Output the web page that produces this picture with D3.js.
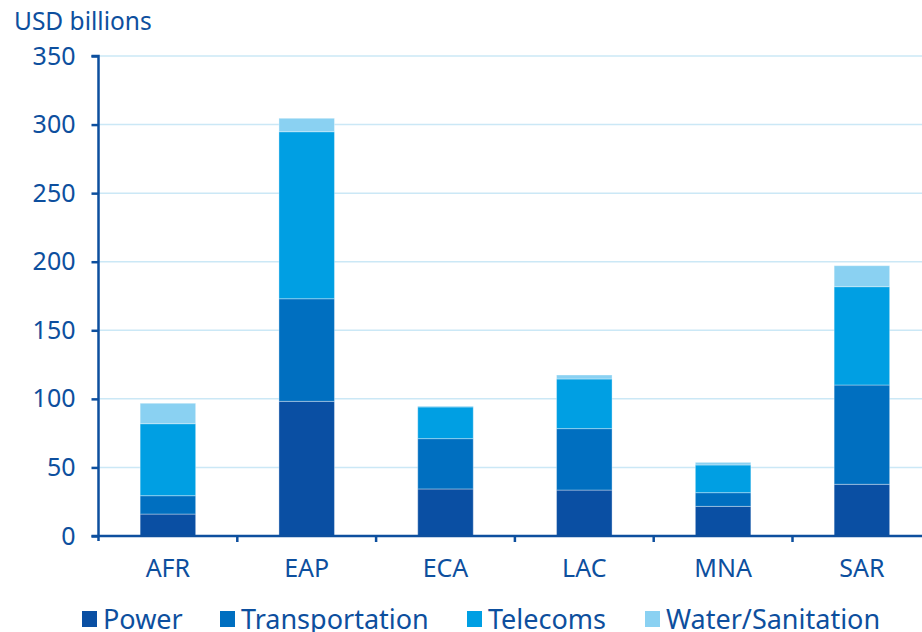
<!DOCTYPE html>
<html>
<head>
<meta charset="utf-8">
<script src="https://cdn.jsdelivr.net/npm/d3@7"></script>
<style>
  html, body { margin: 0; padding: 0; background: #fff; }
  svg { display: block; font-family: "Noto Sans", "Open Sans", sans-serif; }
</style>
</head>
<body>
<svg id="chart" width="922" height="632"></svg>
<script>
// Infrastructure investment needs by region, USD billions
const regions = ["AFR", "EAP", "ECA", "LAC", "MNA", "SAR"];
const seriesNames = ["Power", "Transportation", "Telecoms", "Water/Sanitation"];
const power          = [16.0, 98.2, 34.3, 33.5, 21.6, 37.7];
const transportation = [13.4, 74.8, 36.7, 44.8, 10.0, 72.4];
const telecoms       = [52.5, 121.8, 23.1, 36.2, 20.2, 71.7];
const water          = [14.9, 9.8, 0.7, 2.9, 1.9, 15.3];
const yTicks = [0, 50, 100, 150, 200, 250, 300, 350];

const colors = ["#0a4fa3", "#006fc0", "#009fe3", "#8ad1f2"];
const textColor = "#0d4f9e";

const svg = d3.select("#chart");
const margin = { left: 98.5, top: 56, bottom: 96 };
const yBottom = 632 - margin.bottom;

const rows = regions.map((r, i) => ({
  region: r,
  "Power": power[i],
  "Transportation": transportation[i],
  "Telecoms": telecoms[i],
  "Water/Sanitation": water[i]
}));
const stacked = d3.stack().keys(seriesNames)(rows);

const x = d3.scaleBand().domain(regions).range([margin.left, 931.3]).paddingInner(0.6).paddingOuter(0.3);
const y = d3.scaleLinear().domain([0, 350]).range([yBottom, margin.top]);

// Gridlines
svg.append("g").selectAll("line").data(yTicks.filter(d => d > 0)).join("line")
  .attr("x1", margin.left).attr("x2", 922)
  .attr("y1", d => y(d)).attr("y2", d => y(d))
  .attr("stroke", "#cbe8f6").attr("stroke-width", 1.5);

// Stacked bars
svg.append("g").selectAll("g").data(stacked).join("g")
  .attr("fill", (d, i) => colors[i])
  .selectAll("rect").data(d => d).join("rect")
  .attr("x", d => x(d.data.region))
  .attr("width", x.bandwidth())
  .attr("y", d => y(d[1]))
  .attr("height", d => y(d[0]) - y(d[1]))
  .attr("stroke", "rgba(255,255,255,0.35)")
  .attr("stroke-width", 1);

// Y axis
const yAxis = svg.append("g")
  .attr("transform", `translate(${margin.left},0)`)
  .call(d3.axisLeft(y).tickValues(yTicks).tickSize(7).tickPadding(16));
yAxis.select(".domain").attr("stroke", textColor).attr("stroke-width", 2.5)
  .attr("d", `M0,${yBottom + 5}V${margin.top}H-7`);
yAxis.selectAll(".tick line").attr("stroke", textColor).attr("stroke-width", 2.5);
yAxis.selectAll(".tick text").attr("fill", textColor).attr("font-size", 25)
  .attr("font-family", "Noto Sans, sans-serif");

// X axis with separators between categories
const xAxisG = svg.append("g").attr("transform", `translate(0,${yBottom})`);
xAxisG.append("line").attr("x1", margin.left - 7).attr("x2", 922)
  .attr("y1", 0).attr("y2", 0).attr("stroke", textColor).attr("stroke-width", 2.5);
const step = x.step();
xAxisG.selectAll("line.sep").data(regions.slice(1)).join("line")
  .attr("class", "sep")
  .attr("x1", d => x(d) - step * 0.3).attr("x2", d => x(d) - step * 0.3)
  .attr("y1", 0).attr("y2", 6).attr("stroke", textColor).attr("stroke-width", 2.5);
xAxisG.selectAll("text").data(regions).join("text")
  .attr("x", d => x(d) + x.bandwidth() / 2)
  .attr("y", 41)
  .attr("text-anchor", "middle")
  .attr("fill", textColor).attr("font-size", 25)
  .text(d => d);

// Unit label
svg.append("text").attr("x", 14).attr("y", 30)
  .attr("fill", textColor).attr("font-size", 24.5).text("USD billions");

// Legend
const legendX = [82, 220, 467, 645];
const legend = svg.append("g").selectAll("g").data(seriesNames).join("g")
  .attr("transform", (d, i) => `translate(${legendX[i]},611)`);
legend.append("rect").attr("width", 15).attr("height", 16)
  .attr("fill", (d, i) => colors[i]);
legend.append("text").attr("x", 21).attr("y", 18)
  .attr("fill", textColor).attr("font-size", 27).text(d => d);
</script>
</body>
</html>
